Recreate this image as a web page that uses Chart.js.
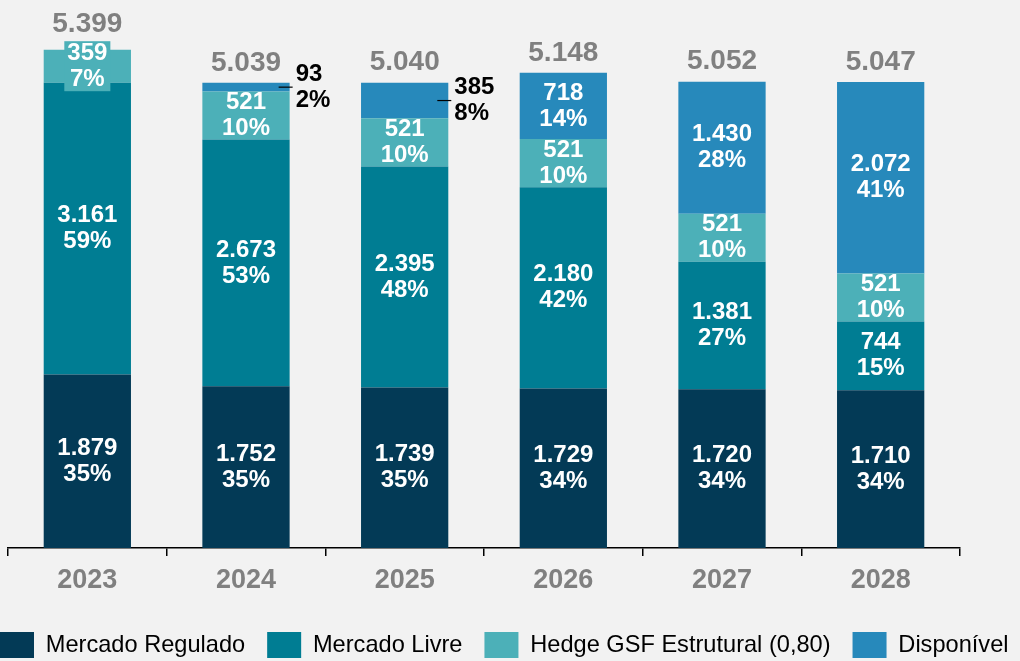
<!DOCTYPE html>
<html>
<head>
<meta charset="utf-8">
<script src="https://cdn.jsdelivr.net/npm/chart.js@4.4.1/dist/chart.umd.min.js"></script>
<style>
  html, body { margin: 0; padding: 0; background: #f2f2f2; overflow: hidden; }
  #wrap { position: absolute; left: -22px; top: 0; width: 1100px; height: 668px; }
</style>
</head>
<body>
<div id="wrap"><canvas id="myChart"></canvas></div>
<script>
const anos = ['2023', '2024', '2025', '2026', '2027', '2028'];
const mercadoRegulado = [1879, 1752, 1739, 1729, 1720, 1710];
const mercadoLivre = [3161, 2673, 2395, 2180, 1381, 744];
const hedgeGsf = [359, 521, 521, 521, 521, 521];
const disponivel = [0, 93, 385, 718, 1430, 2072];

const FONTE = '"Liberation Sans", Arial, sans-serif';
const cores = ['#033a56', '#007d93', '#4cb0b8', '#2789bb'];

const fmt = (v) => String(v).replace(/\B(?=(\d{3})+(?!\d))/g, '.');

const totais = anos.map((a, i) => mercadoRegulado[i] + mercadoLivre[i] + hedgeGsf[i] + disponivel[i]);

// rotulos dos segmentos e totais
const rotulos = {
    id: 'rotulos',
    afterDatasetsDraw(chart) {
        const ctx = chart.ctx;
        const y = chart.scales.y;
        ctx.save();
        ctx.textAlign = 'center';
        ctx.textBaseline = 'middle';
        ctx.font = 'bold 24px ' + FONTE;

        chart.data.datasets.forEach((ds, i) => {
            chart.getDatasetMeta(i).data.forEach((bar, j) => {
                const v = ds.data[j];
                if (!v) return;
                const pct = Math.round(v / totais[j] * 100) + '%';
                const cy = (bar.y + bar.base) / 2;
                const h = bar.base - bar.y;
                if (i === 3 && h < 40) {
                    // fora da barra, com linha guia
                    const right = bar.x + bar.width / 2;
                    ctx.strokeStyle = '#000';
                    ctx.lineWidth = 1.2;
                    ctx.beginPath();
                    ctx.moveTo(right - 11, cy);
                    ctx.lineTo(right + 3, cy);
                    ctx.stroke();
                    ctx.fillStyle = '#000';
                    ctx.textAlign = 'left';
                    ctx.fillText(fmt(v), right + 6, cy - 13);
                    ctx.fillText(pct, right + 6, cy + 13);
                    ctx.textAlign = 'center';
                    return;
                }
                if (h < 40) {
                    const w = Math.max(ctx.measureText(fmt(v)).width, ctx.measureText(pct).width) + 6;
                    ctx.fillStyle = ds.backgroundColor;
                    ctx.fillRect(bar.x - w / 2, cy - 25, w, 50);
                }
                ctx.fillStyle = '#fff';
                ctx.fillText(fmt(v), bar.x, cy - 13);
                ctx.fillText(pct, bar.x, cy + 13);
            });
        });

        ctx.font = 'bold 28px ' + FONTE;
        ctx.fillStyle = '#808080';
        const meta = chart.getDatasetMeta(0);
        totais.forEach((t, j) => {
            const top = y.getPixelForValue(t);
            const off = disponivel[j] ? 20 : 25;
            ctx.fillText(fmt(t), meta.data[j].x, top - off);
        });
        ctx.restore();
    }
};

const data = {
    labels: anos,
    datasets: [
        { label: 'Mercado Regulado', data: mercadoRegulado, backgroundColor: cores[0] },
        { label: 'Mercado Livre', data: mercadoLivre, backgroundColor: cores[1] },
        { label: 'Hedge GSF Estrutural (0,80)', data: hedgeGsf, backgroundColor: cores[2] },
        { label: 'Disponível', data: disponivel, backgroundColor: cores[3] }
    ]
};

const config = {
    type: 'bar',
    data: data,
    plugins: [rotulos],
    options: {
        responsive: true,
        maintainAspectRatio: false,
        animation: false,
        layout: { padding: { top: 20, right: 0, bottom: 0, left: 0 } },
        datasets: {
            bar: { categoryPercentage: 1, barPercentage: 0.55, borderWidth: 0 }
        },
        scales: {
            x: {
                stacked: true,
                grid: { display: true, drawOnChartArea: false, drawTicks: true, tickLength: 8, color: '#000', lineWidth: 1.5, offset: true },
                border: { display: true, color: '#000', width: 1.5 },
                ticks: { color: '#808080', padding: 8, font: { size: 27, weight: 'bold', family: FONTE } },
                afterFit: (s) => { s.height = 62; }
            },
            y: {
                stacked: true,
                min: 0,
                max: 5720,
                grid: { display: false },
                border: { display: false },
                ticks: { display: false },
                afterFit: (s) => { s.width = 30; }
            },
            margemDireita: {
                type: 'linear',
                position: 'right',
                grid: { display: false },
                border: { display: false },
                ticks: { display: false },
                afterFit: (s) => { s.width = 118; }
            }
        },
        plugins: {
            tooltip: { enabled: false },
            legend: {
                position: 'bottom',
                align: 'start',
                labels: {
                    boxWidth: 34,
                    boxHeight: 26,
                    padding: 22,
                    color: '#000',
                    font: { size: 23.6, family: FONTE }
                }
            }
        }
    }
};

const myChart = new Chart(document.getElementById('myChart'), config);
</script>
</body>
</html>
